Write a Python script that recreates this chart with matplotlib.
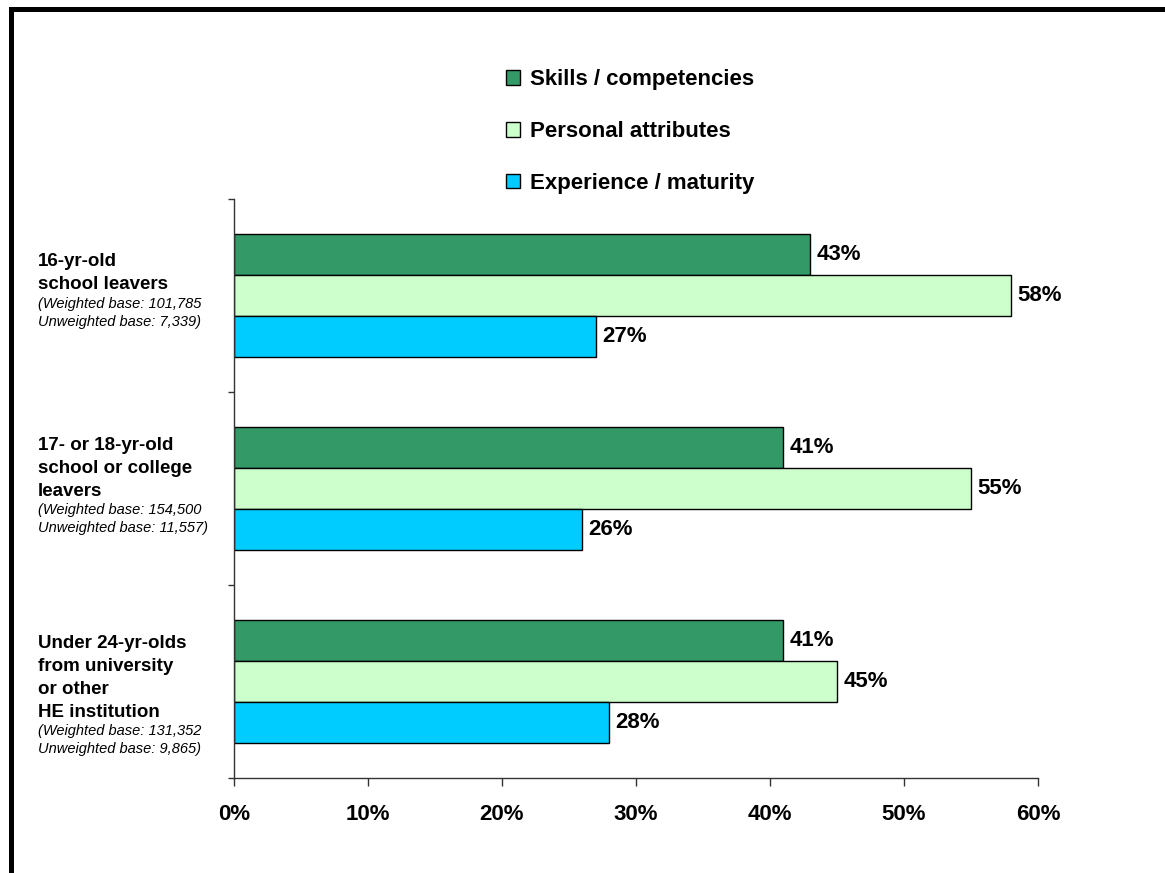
import matplotlib
matplotlib.use('Agg')
import matplotlib.pyplot as plt
from matplotlib.patches import Patch
import numpy as np

plt.rcParams['font.family'] = ['Liberation Sans', 'DejaVu Sans']

# Share of employers citing each reason (%)
groups = ['16-yr-old\nschool leavers',
          '17- or 18-yr-old\nschool or college\nleavers',
          'Under 24-yr-olds\nfrom university\nor other\nHE institution']
bases = ['(Weighted base: 101,785\nUnweighted base: 7,339)',
         '(Weighted base: 154,500\nUnweighted base: 11,557)',
         '(Weighted base: 131,352\nUnweighted base: 9,865)']
series = ['Skills / competencies', 'Personal attributes', 'Experience / maturity']
skills = [43, 41, 41]
personal = [58, 55, 45]
experience = [27, 26, 28]
xticks = [0, 10, 20, 30, 40, 50, 60]

colors = ['#339966', '#CCFFCC', '#00CCFF']

fig = plt.figure(figsize=(11.65, 8.73), dpi=100)
ax = fig.add_axes([234 / 1165, 1 - 778 / 873, (1038 - 234) / 1165, (778 - 199) / 873])

y = np.arange(len(groups))
h = 0.2125
for i, (vals, col) in enumerate(zip([skills, personal, experience], colors)):
    pos = y + (i - 1) * h
    ax.barh(pos, vals, height=h, color=col, edgecolor='black', linewidth=1)
    for p, v in zip(pos, vals):
        ax.annotate(f'{v}%', (v, p), xytext=(4.5, 0), textcoords='offset points',
                    va='center', ha='left', fontsize=16, fontweight='bold')

ax.set_xlim(0, 60)
ax.set_ylim(2.5, -0.5)
ax.set_xticks(xticks)
ax.set_xticklabels([f'{t}%' for t in xticks], fontsize=16, fontweight='bold')
ax.set_yticks([-0.5, 0.5, 1.5, 2.5])
ax.set_yticklabels([])
ax.tick_params(axis='x', length=6, width=1, pad=13, color='#333333')
ax.tick_params(axis='y', length=4, width=1, color='#333333')
for s in ['top', 'right']:
    ax.spines[s].set_visible(False)
for s in ['left', 'bottom']:
    ax.spines[s].set_color('#333333')
    ax.spines[s].set_linewidth(1)

# Category labels at the left, bold heading plus italic base sizes
label_shift = [-4, -2, 15]  # px, vertical nudge of each block (positive = down)
for i, (g, b) in enumerate(zip(groups, bases)):
    lines = [(t, True) for t in g.split('\n')] + [(t, False) for t in b.split('\n')]
    offs = []
    cur = 0
    prev = None
    for t, bold in lines:
        if prev is not None:
            cur += 23 if prev and bold else (19 if prev else 18)
        offs.append(cur)
        prev = bold
    mid = offs[-1] / 2
    for (t, bold), o in zip(lines, offs):
        ax.annotate(t, (38 / 1165, i), xycoords=('figure fraction', 'data'),
                    xytext=(0, -(o - mid + label_shift[i]) * 0.72), textcoords='offset points',
                    ha='left', va='center',
                    fontsize=13.5 if bold else 10.5,
                    fontweight='bold' if bold else 'normal',
                    fontstyle='normal' if bold else 'italic')

handles = [Patch(facecolor=c, edgecolor='black', linewidth=1) for c in colors]
fig.legend(handles, series, loc='upper left', bbox_to_anchor=(506 / 1165, 1 - 69 / 873),
           frameon=False, prop={'size': 16, 'weight': 'bold'},
           handlelength=0.65, handleheight=0.65, handletextpad=0.42,
           labelspacing=1.39, borderpad=0, borderaxespad=0)

# Heavy frame along the top and left edges
fig.add_artist(plt.Line2D([10.5 / 1165, 10.5 / 1165], [0, 1 - 8.5 / 873],
                          transform=fig.transFigure, color='black', linewidth=3.6,
                          solid_capstyle='projecting'))
fig.add_artist(plt.Line2D([10.5 / 1165, 1], [1 - 8.5 / 873, 1 - 8.5 / 873],
                          transform=fig.transFigure, color='black', linewidth=3.6,
                          solid_capstyle='projecting'))

fig.savefig('out.png', dpi=100)
